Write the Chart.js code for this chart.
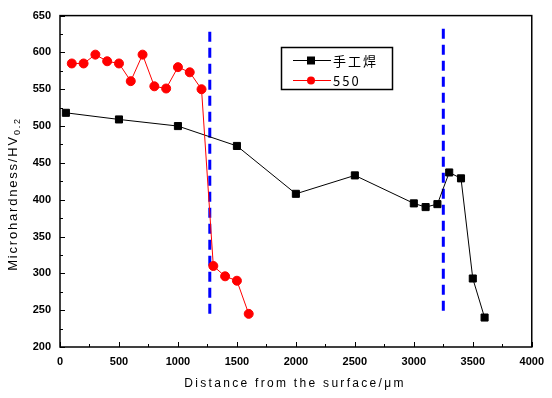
<!DOCTYPE html>
<html><head><meta charset="utf-8">
<script src="https://cdn.jsdelivr.net/npm/chart.js@4"></script>
<style>html,body{margin:0;padding:0;background:#fff}#wrap{width:552px;height:398px}</style>
</head><body><div id="wrap"><canvas id="c" width="552" height="398"></canvas></div>
<script>
// ---- data ----
const manualX = [50, 500, 1000, 1500, 2000, 2500, 3000, 3100, 3200, 3300, 3400, 3500, 3600];
const manualY = [518, 509, 500, 473, 408, 433, 395, 390, 394, 437, 429, 293, 240];
const s550X = [100, 200, 300, 400, 500, 600, 700, 800, 900, 1000, 1100, 1200, 1300, 1400, 1500, 1600];
const s550Y = [585, 585, 597, 588, 585, 561, 597, 554, 551, 580, 573, 550, 310, 296, 290, 245];
const boundary1X = [1270, 1270];
const boundary1Y = [628, 237];
const boundary2X = [3250, 3250];
const boundary2Y = [632, 242];
const seriesNames = ['手工焊', '550'];
const xTicks = [0, 500, 1000, 1500, 2000, 2500, 3000, 3500, 4000];
const yTicks = [200, 250, 300, 350, 400, 450, 500, 550, 600, 650];
const xTitle = 'Distance from the surface/μm';
const yTitle = 'Microhardness/HV';
const yTitleSub = '0.2';

const pts = (xs, ys) => xs.map((x, i) => ({x, y: ys[i]}));

const frame = {
  id: 'frame',
  afterDraw(chart) {
    const {ctx, chartArea: a, scales: {x, y}} = chart;
    ctx.save();
    ctx.strokeStyle = '#000';
    ctx.lineWidth = 1.5;
    ctx.strokeRect(a.left, a.top, a.right - a.left, a.bottom - a.top);
    ctx.lineWidth = 1;
    ctx.beginPath();
    for (let v = 0; v <= 4000; v += 250) {
      const px = Math.round(x.getPixelForValue(v)) + 0.5;
      const len = (v % 500 === 0) ? 5 : 3;
      ctx.moveTo(px, a.bottom); ctx.lineTo(px, a.bottom - len);
    }
    for (let v = 200; v <= 650; v += 25) {
      const py = Math.round(y.getPixelForValue(v)) + 0.5;
      const len = (v % 50 === 0) ? 5 : 3;
      ctx.moveTo(a.left, py); ctx.lineTo(a.left + len, py);
    }
    ctx.stroke();
    // axis titles
    ctx.fillStyle = '#000';
    ctx.font = '12px "Liberation Sans", Arial, sans-serif';
    ctx.letterSpacing = '2.3px';
    ctx.textAlign = 'center';
    ctx.textBaseline = 'middle';
    ctx.fillText(xTitle, 295, 384);
    ctx.save();
    ctx.translate(13, 194);
    ctx.rotate(-Math.PI / 2);
    ctx.letterSpacing = '1.8px';
    ctx.font = '13px "Liberation Sans", Arial, sans-serif';
    const w1 = ctx.measureText(yTitle).width;
    ctx.font = '9px "Liberation Sans", Arial, sans-serif';
    const w2 = ctx.measureText(yTitleSub).width;
    const start = -(w1 + w2) / 2;
    ctx.textAlign = 'left';
    ctx.font = '13px "Liberation Sans", Arial, sans-serif';
    ctx.fillText(yTitle, start, 0);
    ctx.font = '9px "Liberation Sans", Arial, sans-serif';
    ctx.fillText(yTitleSub, start + w1, 5);
    ctx.restore();
    // legend
    ctx.lineWidth = 1.5;
    ctx.strokeRect(281.5, 47.5, 111, 42);
    ctx.letterSpacing = '2px';
    ctx.textAlign = 'left';
    const rows = [{c: '#000', t: seriesNames[0], y: 60, sq: true}, {c: '#ff0000', t: seriesNames[1], y: 80, sq: false}];
    rows.forEach(r => {
      ctx.strokeStyle = r.c; ctx.fillStyle = r.c; ctx.lineWidth = 1;
      ctx.beginPath(); ctx.moveTo(293, r.y + 0.5); ctx.lineTo(331, r.y + 0.5); ctx.stroke();
      if (r.sq) ctx.fillRect(307, r.y - 3.5, 8, 8);
      else { ctx.beginPath(); ctx.arc(311, r.y + 0.5, 4, 0, Math.PI * 2); ctx.fill(); }
      ctx.fillStyle = '#000';
      ctx.font = '13px "Noto Sans CJK SC", "Liberation Sans", sans-serif';
      ctx.fillText(r.t, 333, r.y + 1);
    });
    ctx.restore();
  }
};

const plain = v => String(v);

new Chart(document.getElementById('c'), {
  type: 'scatter',
  data: {
    datasets: [
      {label: seriesNames[0], data: pts(manualX, manualY), showLine: true, borderColor: '#000', backgroundColor: '#000',
       borderWidth: 1, pointStyle: 'rect', pointRadius: 5, pointHoverRadius: 5, order: 2},
      {label: seriesNames[1], data: pts(s550X, s550Y), showLine: true, borderColor: '#ff0000', backgroundColor: '#ff0000',
       borderWidth: 1, pointStyle: 'circle', pointRadius: 4.5, pointHoverRadius: 4.5, order: 1},
      {label: 'b1', data: pts(boundary1X, boundary1Y), showLine: true, borderColor: '#0000ff', borderWidth: 3,
       borderDash: [10, 6], pointRadius: 0, order: 3},
      {label: 'b2', data: pts(boundary2X, boundary2Y), showLine: true, borderColor: '#0000ff', borderWidth: 3,
       borderDash: [10, 6], pointRadius: 0, order: 3}
    ]
  },
  options: {
    responsive: false, animation: false,
    layout: {padding: {left: 0, right: 17, top: 14, bottom: 0}},
    plugins: {legend: {display: false}, tooltip: {enabled: false}},
    scales: {
      x: {type: 'linear', min: 0, max: 4000,
          afterBuildTicks: s => { s.ticks = xTicks.map(v => ({value: v})); },
          afterFit: s => { s.height = 51; },
          grid: {display: false, drawTicks: false}, border: {display: false},
          ticks: {color: '#000', padding: 8, maxRotation: 0, autoSkip: false, callback: plain,
                  font: {family: '"Liberation Sans", Arial, sans-serif', size: 11, weight: 'bold'}}},
      y: {type: 'linear', min: 200, max: 650,
          afterBuildTicks: s => { s.ticks = yTicks.map(v => ({value: v})); },
          afterFit: s => { s.width = 60; },
          grid: {display: false, drawTicks: false}, border: {display: false},
          ticks: {color: '#000', padding: 9, autoSkip: false, callback: plain,
                  font: {family: '"Liberation Sans", Arial, sans-serif', size: 11, weight: 'bold'}}}
    }
  },
  plugins: [frame]
});
</script></body></html>
